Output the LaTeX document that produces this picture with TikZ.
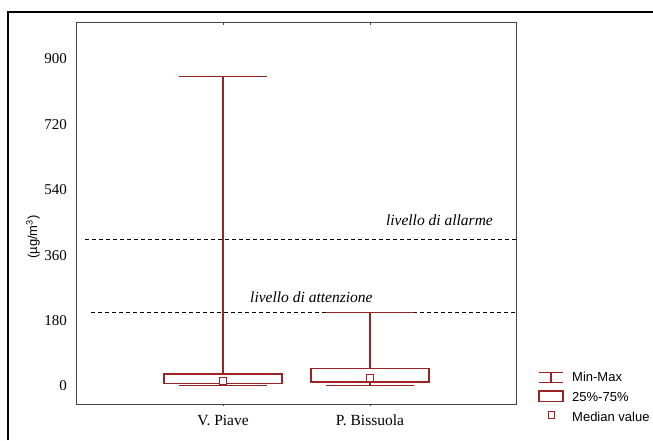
\documentclass[tikz,border=0pt]{standalone}
\usepackage{fontspec}
\setmainfont{Liberation Serif}
\setsansfont{Liberation Sans}
\definecolor{boxred}{RGB}{155,35,35}
\definecolor{axisgray}{RGB}{70,70,70}

\begin{document}
\begin{tikzpicture}[x=1pt,y=1pt,
  whisker/.style={draw=boxred,line width=1.1pt},
  iqrbox/.style={draw=boxred,line width=1.1pt,fill=white},
  limitline/.style={dashed,dash pattern=on 4pt off 3pt,line width=0.9pt},
  ticklabel/.style={anchor=east,inner sep=0pt,font=\fontsize{15}{18}\selectfont},
  catlabel/.style={inner sep=0pt,font=\fontsize{15.5}{18}\selectfont},
  keylabel/.style={anchor=west,inner sep=0pt,font=\sffamily\fontsize{13}{15}\selectfont}]

\newcommand\LOW{-50}
\newcommand\HIGH{1000}
\newcommand\HALFCAP{44}
\newcommand\HALFBOX{59}
\newcommand\MED{3.8}

  \useasboundingbox (0,0) rectangle (653,440);

  %% outer frame
  \draw[line width=1.5pt] (8,0) -- (8,428) -- (653,428);

  %% y label
  \node[rotate=90,inner sep=0pt,font=\sffamily\fontsize{13}{15}\selectfont]
    (ylab) at (33,203) {(µg/m\textsuperscript{3})};

  \begin{scope}[shift={(0,54)},y=0.3633pt]

  %% axes
  \draw[axisgray,line width=1pt] (76,\LOW) rectangle (516,\HIGH);
  \foreach \x in {223,370} {
    \draw[axisgray] (\x,\LOW) -- +(0,-6);
    \draw[axisgray] (\x,\HIGH) -- +(0,-6);
  }
  \foreach \v in {0,180,360,540,720,900}
    \node[ticklabel] (tick\v) at (67,\v) {\v};

  %% limits
  \draw[limitline] (85,403) -- (516,403);
  \draw[limitline] (91,202) -- (516,202);
  \node[catlabel,anchor=east,font=\itshape\fontsize{15.5}{18}\selectfont]
    (allarme) at (493,457) {livello di allarme};
  \node[catlabel,anchor=west,font=\itshape\fontsize{15.5}{18}\selectfont]
    (attenzione) at (250,245) {livello di attenzione};

  %% V. Piave
  \draw[whisker] (223,2) -- (223,853);
  \draw[whisker] (223-\HALFCAP,853) -- (223+\HALFCAP,853);
  \draw[whisker] (223-\HALFCAP,2) -- (223+\HALFCAP,2);
  \draw[iqrbox] (223-\HALFBOX,8) rectangle (223+\HALFBOX,33);
  \draw[iqrbox] (223,14) +(-\MED,-10.5) rectangle +(\MED,10.5);

  %% P. Bissuola
  \draw[whisker] (370,1) -- (370,202);
  \draw[whisker] (370-\HALFCAP,202) -- (370+\HALFCAP,202);
  \draw[whisker] (370-\HALFCAP,1) -- (370+\HALFCAP,1);
  \draw[iqrbox] (370-\HALFBOX,11) rectangle (370+\HALFBOX,47);
  \draw[iqrbox] (370,22) +(-\MED,-10.5) rectangle +(\MED,10.5);

  \end{scope}

  %% categories
  \node[catlabel] (piave) at (223,20) {V. Piave};
  \node[catlabel] (bissuola) at (370,20) {P. Bissuola};

  %% legend
  \draw[whisker] (539,67.3) -- (563,67.3);
  \draw[whisker] (539,57.7) -- (563,57.7);
  \draw[whisker] (551,67.3) -- (551,57.7);
  \draw[iqrbox] (539,38.5) rectangle (563,49);
  \draw[iqrbox] (548.3,21.8) rectangle (554.7,28.2);
  \node[keylabel] (keyminmax) at (572,63) {Min-Max};
  \node[keylabel] (keybox) at (572,43) {25\%-75\%};
  \node[keylabel] (keymed) at (572,23) {Median value};

\end{tikzpicture}
\end{document}
